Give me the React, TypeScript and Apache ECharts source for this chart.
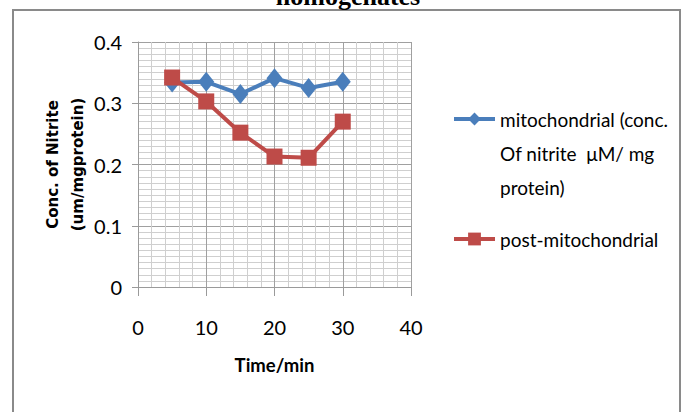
import React, { useEffect, useRef } from "react";
import * as echarts from "echarts";

const times = [5, 10, 15, 20, 25, 30];
const mitochondrial = [0.334, 0.335, 0.315, 0.341, 0.325, 0.335];
const postMitochondrial = [0.342, 0.303, 0.252, 0.213, 0.211, 0.27];
const seriesNames = [
  "mitochondrial (conc.\nOf nitrite  \u03bcM/ mg\nprotein)",
  "post-mitochondrial",
];
const titleText = "homogenates";
const xAxisName = "Time/min";
const yAxisName = "Conc. of Nitrite\n(um/mgprotein)";

const narrow = "Lato, 'Noto Sans', sans-serif";

export default function App() {
  const ref = useRef<HTMLDivElement>(null);
  useEffect(() => {
    if (!ref.current) return;
    const chart = echarts.init(ref.current, null, { renderer: "svg" });
    const legendCommon = {
      left: 452,
      padding: 0,
      itemWidth: 41,
      itemHeight: 16,
      lineStyle: { width: 4 },
    };
    chart.setOption({
      animation: false,
      backgroundColor: "#ffffff",
      graphic: [
        {
          type: "rect",
          shape: { x: 13, y: 10, width: 667, height: 420 },
          style: { fill: "none", stroke: "#8a8a8a", lineWidth: 2 },
          z: -1,
        },
        {
          type: "text",
          x: 348,
          y: 9,
          style: {
            text: titleText,
            font: "bold 26px 'Liberation Serif', serif",
            fill: "#000",
            textAlign: "center",
            textVerticalAlign: "bottom",
          },
        },
      ],
      grid: { left: 138, right: 275, top: 42, bottom: 125, containLabel: false },
      legend: [
        {
          ...legendCommon,
          top: 34,
          data: [seriesNames[0]],
          formatter: (n: string) => "\n\n" + n,
          textStyle: { fontFamily: narrow, fontSize: 19, color: "#000", lineHeight: 34 },
        },
        {
          ...legendCommon,
          top: 222,
          data: [seriesNames[1]],
          textStyle: { fontFamily: narrow, fontSize: 19, color: "#000", lineHeight: 34 },
        },
      ],
      xAxis: {
        type: "value",
        min: 0,
        max: 40,
        interval: 10,
        name: xAxisName,
        nameLocation: "middle",
        nameGap: 68,
        nameTextStyle: { fontFamily: narrow, fontWeight: "bold", fontSize: 18.5, color: "#000" },
        axisLine: { show: true, lineStyle: { color: "#9a9a9a", width: 1 } },
        axisTick: { show: true, length: 9, lineStyle: { color: "#9a9a9a" } },
        axisLabel: { fontFamily: narrow, fontSize: 20, color: "#000", margin: 30 },
        splitLine: { show: true, lineStyle: { color: "#a0a0a0", width: 1 } },
        minorTick: { show: false, splitNumber: 5 },
        minorSplitLine: { show: true, lineStyle: { color: "#cfcfcf", width: 1 } },
      },
      yAxis: {
        type: "value",
        min: 0,
        max: 0.4,
        interval: 0.1,
        name: yAxisName,
        nameLocation: "middle",
        nameRotate: 90,
        nameGap: 48,
        nameTextStyle: {
          fontFamily: "'DejaVu Sans', Verdana, sans-serif",
          fontWeight: "bold",
          fontSize: 15,
          color: "#000",
          lineHeight: 25,
        },
        axisLine: { show: true, lineStyle: { color: "#9a9a9a", width: 1 } },
        axisTick: { show: true, length: 6, lineStyle: { color: "#9a9a9a" } },
        axisLabel: { fontFamily: narrow, fontSize: 20, color: "#000", margin: 16 },
        splitLine: { show: true, lineStyle: { color: "#a0a0a0", width: 1 } },
        minorTick: { show: false, splitNumber: 10 },
        minorSplitLine: { show: true, lineStyle: { color: "#cfcfcf", width: 1 } },
      },
      series: [
        {
          name: seriesNames[0],
          type: "line",
          data: times.map((t, i) => [t, mitochondrial[i]]),
          symbol: "diamond",
          symbolSize: [16, 20],
          color: "#4a7ebb",
          lineStyle: { width: 4, color: "#4a7ebb" },
          itemStyle: { color: "#4a7ebb" },
          z: 2,
        },
        {
          name: seriesNames[1],
          type: "line",
          data: times.map((t, i) => [t, postMitochondrial[i]]),
          symbol: "rect",
          symbolSize: 16,
          color: "#be4b48",
          lineStyle: { width: 4, color: "#be4b48" },
          itemStyle: { color: "#be4b48" },
          z: 3,
        },
      ],
    });
    return () => chart.dispose();
  }, []);
  return <div ref={ref} style={{ width: 686, height: 412, position: "absolute", left: 0, top: 0 }} />;
}
